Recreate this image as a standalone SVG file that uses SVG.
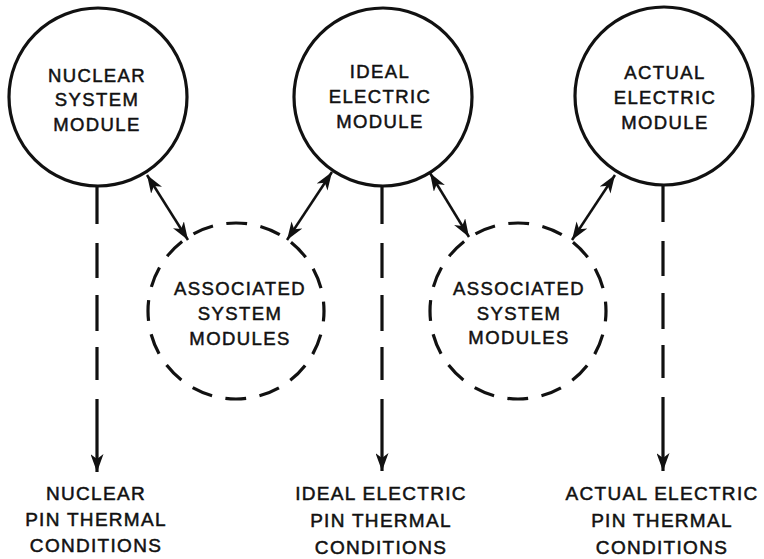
<svg xmlns="http://www.w3.org/2000/svg" width="764" height="559" viewBox="0 0 764 559">
  <style>
    .solid { fill: none; stroke: #111; stroke-width: 3.2; }
    .dashed { fill: none; stroke: #111; stroke-width: 3.2; stroke-dasharray: 21 13.56; stroke-dashoffset: 10.5; }
    .link { stroke: #111; stroke-width: 2.5; fill: none; }
    .drop { stroke: #111; stroke-width: 3.2; fill: none; stroke-dasharray: 38 19 35 17 36 16 33 19 300; }
    .lbl { font-family: "Liberation Sans", Arial, Helvetica, sans-serif; font-size: 18.5px; letter-spacing: 1.4px; fill: #111; stroke: #111; stroke-width: 0.5; text-anchor: middle; }
    .out { font-family: "Liberation Sans", Arial, Helvetica, sans-serif; font-size: 19px; letter-spacing: 1.3px; fill: #111; stroke: #111; stroke-width: 0.5; text-anchor: middle; }
  </style>
  <defs>
    <marker id="head" markerUnits="userSpaceOnUse" markerWidth="19" markerHeight="13" refX="18" refY="6.5" orient="auto-start-reverse">
      <path d="M0,0 L18,6.5 L0,13 L5,6.5 z" fill="#111"/>
    </marker>
  </defs>
  <rect width="764" height="559" fill="#fff"/>

  <!-- main modules -->
  <g id="nuclear-system-module">
    <circle class="solid" cx="98" cy="97" r="89"/>
    <text class="lbl" x="97" y="82">NUCLEAR</text>
    <text class="lbl" x="97" y="106">SYSTEM</text>
    <text class="lbl" x="97" y="131">MODULE</text>
  </g>
  <g id="ideal-electric-module">
    <circle class="solid" cx="383" cy="97" r="89"/>
    <text class="lbl" x="380" y="78">IDEAL</text>
    <text class="lbl" x="380" y="103">ELECTRIC</text>
    <text class="lbl" x="380" y="128">MODULE</text>
  </g>
  <g id="actual-electric-module">
    <circle class="solid" cx="664" cy="96" r="89"/>
    <text class="lbl" x="665" y="79">ACTUAL</text>
    <text class="lbl" x="665" y="104">ELECTRIC</text>
    <text class="lbl" x="665" y="129">MODULE</text>
  </g>

  <!-- associated modules -->
  <g id="associated-modules-1">
    <circle class="dashed" cx="236" cy="311" r="88"/>
    <text class="lbl" x="240" y="295">ASSOCIATED</text>
    <text class="lbl" x="240" y="320">SYSTEM</text>
    <text class="lbl" x="240" y="345">MODULES</text>
  </g>
  <g id="associated-modules-2">
    <circle class="dashed" cx="518" cy="311" r="88"/>
    <text class="lbl" x="519" y="295">ASSOCIATED</text>
    <text class="lbl" x="519" y="320">SYSTEM</text>
    <text class="lbl" x="519" y="344">MODULES</text>
  </g>

  <!-- outputs -->
  <g id="nuclear-pin-conditions">
    <text class="out" x="96" y="500">NUCLEAR</text>
    <text class="out" x="96" y="526">PIN THERMAL</text>
    <text class="out" x="96" y="552">CONDITIONS</text>
  </g>
  <g id="ideal-pin-conditions">
    <text class="out" x="381" y="500">IDEAL ELECTRIC</text>
    <text class="out" x="381" y="527">PIN THERMAL</text>
    <text class="out" x="381" y="554">CONDITIONS</text>
  </g>
  <g id="actual-pin-conditions">
    <text class="out" x="662" y="500">ACTUAL ELECTRIC</text>
    <text class="out" x="662" y="527">PIN THERMAL</text>
    <text class="out" x="662" y="554">CONDITIONS</text>
  </g>

  <!-- connectors -->
  <g id="connectors">
    <line class="link" x1="147" y1="175" x2="188" y2="240" marker-start="url(#head)" marker-end="url(#head)"/>
    <line class="link" x1="332" y1="172" x2="287" y2="240" marker-start="url(#head)" marker-end="url(#head)"/>
    <line class="link" x1="430" y1="173" x2="469" y2="237" marker-start="url(#head)" marker-end="url(#head)"/>
    <line class="link" x1="615" y1="175" x2="572" y2="240" marker-start="url(#head)" marker-end="url(#head)"/>
    <line class="drop" x1="97" y1="186" x2="97" y2="472" marker-end="url(#head)"/>
    <line class="drop" x1="382" y1="186" x2="382" y2="471" marker-end="url(#head)"/>
    <line class="drop" x1="663" y1="184" x2="663" y2="471" marker-end="url(#head)"/>
  </g>
</svg>
